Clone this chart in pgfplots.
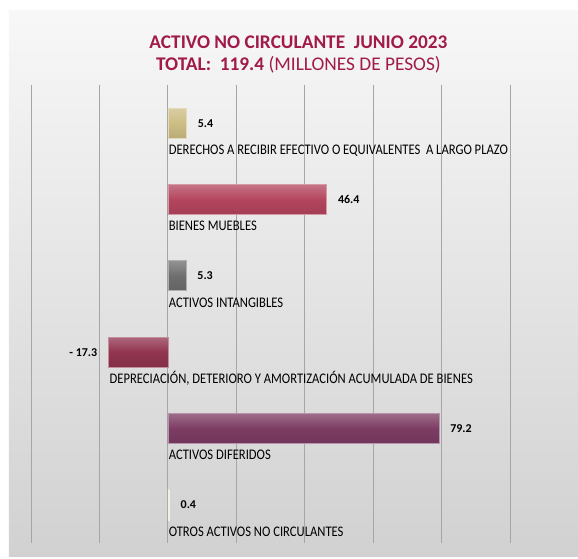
\documentclass[border=0pt]{standalone}
\usepackage{fontspec}
\setmainfont{Carlito}
\usepackage{graphicx}
\usepackage{pgfplots}
\pgfplotsset{compat=1.18}

\definecolor{titulo}{HTML}{A11A4A}
\definecolor{caqui}{HTML}{CDBE84}
\definecolor{rosa}{HTML}{B4455E}
\definecolor{gris}{HTML}{6E6E6E}
\definecolor{granate}{HTML}{923450}
\definecolor{morado}{HTML}{7D3C63}
\definecolor{crema}{HTML}{E6E3CC}
\definecolor{rejilla}{HTML}{A6A6A6}

\pgfplotsset{
  barra/.style={xbar, bar width=22.5pt, bar shift=0pt,
    draw=#1!55!white, line width=0.5pt,
    top color=#1!75!white, bottom color=#1!90!black, middle color=#1,
    nodes near coords, point meta=explicit symbolic,
    every node near coord/.style={font=\bfseries\fontsize{9}{11}\selectfont, anchor=west,
      xshift=5pt, text=black}},
}

\begin{document}
\begin{tikzpicture}
\path[use as bounding box] (-23.25pt,-12pt) rectangle (410.25pt,407.25pt);
\shade[top color=black!3, bottom color=black!18] (-16.5pt,-10.5pt) rectangle (410.25pt,399pt);

\begin{axis}[
  at={(0,0)}, anchor=south west,
  scale only axis,
  width=359.25pt, height=343.5pt,
  xmin=-40, xmax=100,
  ymin=-0.5, ymax=5.5,
  y dir=reverse,
  xtick={-40,-20,...,100},
  xticklabels={},
  ytick=\empty,
  xmajorgrids,
  major grid style={rejilla, line width=0.6pt},
  axis line style={draw=none},
  tick style={draw=none},
  clip=false,
]
\addplot[barra=caqui] coordinates {(5.4,0) [5.4]};
\addplot[barra=rosa] coordinates {(46.4,1) [46.4]};
\addplot[barra=gris] coordinates {(5.3,2) [5.3]};
\addplot[barra=granate, every node near coord/.style={font=\bfseries\fontsize{9}{11}\selectfont,
  anchor=east, xshift=-5pt, text=black}] coordinates {(-17.3,3) [- 17.3]};
\addplot[barra=morado] coordinates {(79.2,4) [79.2]};
\addplot[barra=crema] coordinates {(0.4,5) [0.4]};

% nombres de las categorias, bajo cada barra
\addplot[draw=none, mark=none, point meta=explicit symbolic,
  nodes near coords={\scalebox{0.86}[1]{\pgfplotspointmeta}},
  every node near coord/.style={anchor=base west, yshift=-23.5pt, xshift=0.5pt,
    inner sep=0pt, font=\fontsize{11}{13}\selectfont, text=black}]
coordinates {
  (0,0) [DERECHOS A RECIBIR EFECTIVO O EQUIVALENTES\ \ A LARGO PLAZO]
  (0,1) [BIENES MUEBLES]
  (0,2) [ACTIVOS INTANGIBLES]
  (-17.3,3) [DEPRECIACIÓN, DETERIORO Y AMORTIZACIÓN ACUMULADA DE BIENES]
  (0,4) [ACTIVOS DIFERIDOS]
  (0,5) [OTROS ACTIVOS NO CIRCULANTES]
};
\end{axis}

\node[text=titulo, font=\fontsize{14.5}{17}\bfseries\selectfont] at (200.6pt,375.75pt)
  {ACTIVO NO CIRCULANTE\ \ JUNIO 2023};
\node[text=titulo, font=\fontsize{14.5}{17}\selectfont] at (200.6pt,359pt)
  {\textbf{TOTAL:\ \ 119.4} (MILLONES DE PESOS)};
\end{tikzpicture}
\end{document}
